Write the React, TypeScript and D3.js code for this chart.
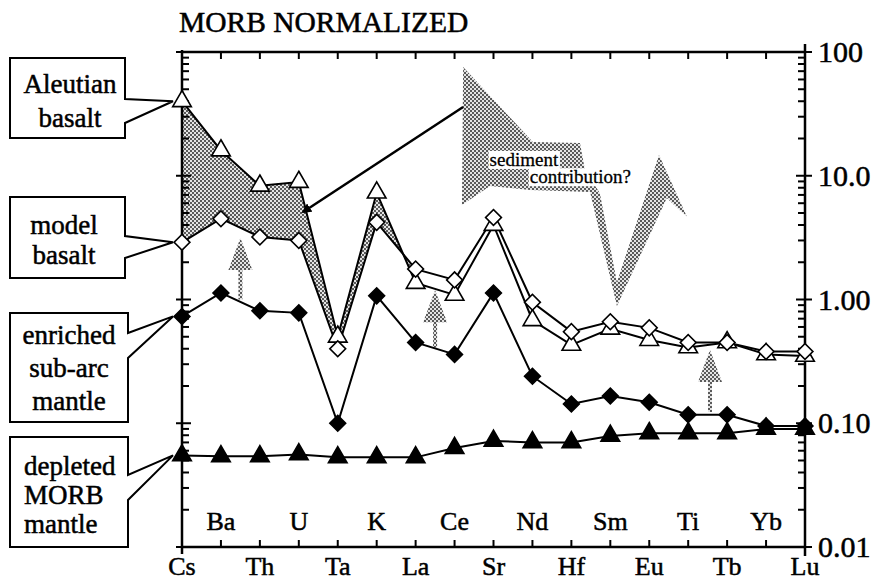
import React, { useEffect, useRef } from "react";
import * as d3 from "d3";

// trace elements along the x axis
const elements = ["Cs", "Ba", "Th", "U", "Ta", "K", "La", "Ce", "Sr", "Nd", "Hf", "Sm", "Eu", "Ti", "Tb", "Yb", "Lu"];

// MORB-normalized abundances
const aleutianBasalt = [40, 16, 8.3, 8.9, 0.5, 7.3, 1.36, 1.09, 4.0, 0.68, 0.43, 0.58, 0.47, 0.41, 0.45, 0.36, 0.35];
const modelBasalt = [2.9, 4.5, 3.2, 3.0, 0.4, 4.2, 1.76, 1.44, 4.6, 0.95, 0.55, 0.66, 0.59, 0.45, 0.45, 0.38, 0.38];
const enrichedMantle = [0.73, 1.13, 0.81, 0.78, 0.1, 1.07, 0.45, 0.36, 1.13, 0.24, 0.143, 0.166, 0.148, 0.117, 0.117, 0.095, 0.095];
const depletedMantle = [0.055, 0.054, 0.054, 0.056, 0.053, 0.053, 0.053, 0.063, 0.072, 0.07, 0.07, 0.079, 0.083, 0.083, 0.083, 0.09, 0.09];

const yTickValues = [100, 10, 1, 0.1, 0.01];
const yTickLabels = ["100", "10.0", "1.00", "0.10", "0.01"];

// annotations in (element index, normalized value)
const sedimentShape: [number, number][] = [
  [7.22, 75.7], [9.01, 18.7], [10.22, 18.4], [10.35, 11.1], [10.73, 7.26],
  [11.17, 1.38], [12.25, 14.7], [12.97, 4.64], [12.45, 6.61], [11.17, 0.886],
  [10.48, 7.39], [8.94, 7.67], [7.91, 8.26], [7.19, 5.8],
];
const pointerLine: [number, number][] = [[7.22, 35.9], [3.11, 5.1]];
const upArrows = [
  { at: 1.5, from: 1.0, to: 3.14 },
  { at: 6.5, from: 0.41, to: 1.19 },
  { at: 13.56, from: 0.123, to: 0.39 },
];
const sedimentLabels = [
  { t: "sediment", i: 7.9, v: 12.0 },
  { t: "contribution?", i: 8.93, v: 8.7 },
];
const shadedUntil = 6; // Cs..La

const calloutLabels = [
  ["Aleutian", "basalt"],
  ["model", "basalt"],
  ["enriched", "sub-arc", "mantle"],
  ["depleted", "MORB", "mantle"],
];
const calloutSeries = [aleutianBasalt, modelBasalt, enrichedMantle, depletedMantle];

const width = 879;
const height = 585;
const marginLeft = 182;
const marginRight = 74;
const marginTop = 52;
const marginBottom = 38;
const font = '"Liberation Serif"';

// callout box layout
const boxes = [
  { x0: 10, y0: 58, x1: 125, y1: 138, g0: 99, g1: 123, tx: 70, ty: 93, dy: 34, anchor: "middle" },
  { x0: 10, y0: 197, x1: 125, y1: 278, g0: 236, g1: 258, tx: 64, ty: 234, dy: 30, anchor: "middle" },
  { x0: 10, y0: 313, x1: 128, y1: 422, g0: 333, g1: 358, tx: 69, ty: 344, dy: 33, anchor: "middle" },
  { x0: 10, y0: 437, x1: 128, y1: 547, g0: 475, g1: 500, tx: 24, ty: 475, dy: 29, anchor: "start" },
];

const App: React.FC = () => {
  const svgRef = useRef<SVGSVGElement>(null);

  useEffect(() => {
    if (!svgRef.current) return;
    const svg = d3.select(svgRef.current);
    svg.selectAll("*").remove();

    const x = d3.scalePoint().domain(elements).range([marginLeft, width - marginRight]);
    const xi = d3.scaleLinear().domain([0, elements.length - 1]).range([marginLeft, width - marginRight]);
    const y = d3.scaleLog().domain([0.01, 100]).range([height - marginBottom, marginTop]);
    const left = marginLeft;
    const right = width - marginRight;
    const top = marginTop;
    const bottom = height - marginBottom;

    // printed look: a thin outline thickens the glyphs
    const ink = (sel: any, size: number) =>
      sel
        .style("font-family", font)
        .attr("font-size", size)
        .attr("fill", "#000")
        .attr("stroke", "#000")
        .attr("stroke-width", 0.5);

    const defs = svg.append("defs");
    const pat = defs
      .append("pattern")
      .attr("id", "stipple")
      .attr("width", 4)
      .attr("height", 4)
      .attr("patternUnits", "userSpaceOnUse");
    pat.append("rect").attr("width", 4).attr("height", 4).attr("fill", "#e4e4e4");
    pat.append("rect").attr("width", 2).attr("height", 2).attr("fill", "#5a5a5a");
    pat.append("rect").attr("x", 2).attr("y", 2).attr("width", 2).attr("height", 2).attr("fill", "#5a5a5a");
    defs
      .append("marker")
      .attr("id", "tip")
      .attr("viewBox", "0 0 10 10")
      .attr("refX", 8)
      .attr("refY", 5)
      .attr("markerWidth", 4)
      .attr("markerHeight", 4)
      .attr("orient", "auto")
      .append("path")
      .attr("d", "M0,0L10,5L0,10z")
      .attr("fill", "#000");

    // title
    ink(svg.append("text").attr("x", 179).attr("y", 32), 29.5).text("MORB NORMALIZED");

    // shaded band between Aleutian and model basalt
    const band = d3
      .area<number>()
      .x((i) => x(elements[i]) as number)
      .y0((i) => y(modelBasalt[i]))
      .y1((i) => y(aleutianBasalt[i]));
    svg.append("path").attr("d", band(d3.range(shadedUntil + 1))).attr("fill", "url(#stipple)");

    // sediment contribution shape
    svg
      .append("path")
      .attr("d", d3.line()(sedimentShape.map(([i, v]) => [xi(i), y(v)])) + "Z")
      .attr("fill", "url(#stipple)");

    sedimentLabels.forEach((s) => {
      const g = svg.append("g");
      const txt = ink(g.append("text").attr("x", xi(s.i)).attr("y", y(s.v)), 19)
        .attr("stroke-width", 0.3)
        .text(s.t);
      const bb = (txt.node() as SVGTextElement).getBBox();
      g.insert("rect", "text")
        .attr("x", bb.x - 1)
        .attr("y", bb.y + 2)
        .attr("width", bb.width + 2)
        .attr("height", bb.height - 3)
        .attr("fill", "#fff");
    });

    // up arrows
    upArrows.forEach((a) => {
      const cx = xi(a.at);
      const yt = y(a.to);
      const yb = y(a.from);
      const yh = yt + 32;
      svg
        .append("path")
        .attr("d", `M${cx - 2},${yb}V${yh}H${cx - 12}L${cx},${yt}L${cx + 12},${yh}H${cx + 2}V${yb}Z`)
        .attr("fill", "url(#stipple)");
    });

    // pointer to the shaded band
    svg
      .append("line")
      .attr("x1", xi(pointerLine[0][0]))
      .attr("y1", y(pointerLine[0][1]))
      .attr("x2", xi(pointerLine[1][0]))
      .attr("y2", y(pointerLine[1][1]))
      .attr("stroke", "#000")
      .attr("stroke-width", 2.5)
      .attr("marker-end", "url(#tip)");

    // frame
    const frame = svg.append("g").attr("stroke", "#000").attr("stroke-width", 2.5);
    frame.append("line").attr("x1", left).attr("x2", right).attr("y1", top).attr("y2", top);
    frame.append("line").attr("x1", left).attr("x2", right).attr("y1", bottom).attr("y2", bottom);
    frame.append("line").attr("x1", left).attr("x2", left).attr("y1", top - 2).attr("y2", bottom + 7);
    frame.append("line").attr("x1", right).attr("x2", right).attr("y1", top - 8).attr("y2", bottom + 9);

    // x ticks
    const ticks = svg.append("g").attr("stroke", "#000").attr("stroke-width", 2);
    elements.slice(1, -1).forEach((e) => {
      const px = x(e) as number;
      ticks.append("line").attr("x1", px).attr("x2", px).attr("y1", top).attr("y2", top + 7);
      ticks.append("line").attr("x1", px).attr("x2", px).attr("y1", bottom).attr("y2", bottom - 7);
    });

    // log y ticks
    const minors: number[] = [];
    [0.01, 0.1, 1, 10].forEach((d) => d3.range(2, 10).forEach((k) => minors.push(d * k)));
    minors.forEach((v) => {
      ticks.append("line").attr("x1", left).attr("x2", left + 7).attr("y1", y(v)).attr("y2", y(v));
      ticks.append("line").attr("x1", right).attr("x2", right - 7).attr("y1", y(v)).attr("y2", y(v));
    });
    yTickValues.forEach((v) => {
      ticks.append("line").attr("x1", left - 6).attr("x2", left + 9).attr("y1", y(v)).attr("y2", y(v));
      ticks.append("line").attr("x1", right - 9).attr("x2", right + 7).attr("y1", y(v)).attr("y2", y(v));
    });

    // y tick labels on the right
    ink(
      svg
        .append("g")
        .selectAll("text")
        .data(yTickValues)
        .join("text")
        .attr("x", right + 13)
        .attr("y", (v: number) => y(v) + 10),
      30
    ).text((v: number, i: number) => yTickLabels[i]);

    // element labels, alternating rows
    ink(
      svg
        .append("g")
        .selectAll("text")
        .data(elements)
        .join("text")
        .attr("x", (d: string) => x(d) as number)
        .attr("y", (d: string, i: number) => (i % 2 === 0 ? bottom + 28 : bottom - 17))
        .attr("text-anchor", "middle"),
      26
    ).text((d: string) => d);

    // series lines
    const line = d3
      .line<number>()
      .x((d, i) => x(elements[i]) as number)
      .y((d) => y(d));
    [aleutianBasalt, modelBasalt, enrichedMantle, depletedMantle].forEach((s) => {
      svg
        .append("path")
        .attr("d", line(s))
        .attr("fill", "none")
        .attr("stroke", "#000")
        .attr("stroke-width", 2);
    });

    const tri = d3.symbol(d3.symbolTriangle, 150)();
    const dia = d3.symbol(d3.symbolSquare, 125)();
    const drawMarkers = (s: number[], path: string | null, fill: string, rot: number) => {
      svg
        .append("g")
        .selectAll("path")
        .data(s)
        .join("path")
        .attr("d", path)
        .attr("transform", (d, i) => `translate(${x(elements[i])},${y(d)}) rotate(${rot})`)
        .attr("fill", fill)
        .attr("stroke", "#000")
        .attr("stroke-width", 1.6);
    };
    drawMarkers(aleutianBasalt, tri, "#fff", 0);
    drawMarkers(modelBasalt, dia, "#fff", 45);
    drawMarkers(depletedMantle, tri, "#000", 0);
    drawMarkers(enrichedMantle, dia, "#000", 45);

    // callout boxes
    boxes.forEach((b, k) => {
      const tipX = (x(elements[0]) as number) - 9;
      const tipY = y(calloutSeries[k][0]);
      svg
        .append("path")
        .attr("d", `M${b.x0},${b.y0}H${b.x1}V${b.g0}L${tipX},${tipY}L${b.x1},${b.g1}V${b.y1}H${b.x0}Z`)
        .attr("fill", "#fff")
        .attr("stroke", "#000")
        .attr("stroke-width", 2);
      ink(
        svg
          .append("g")
          .selectAll("text")
          .data(calloutLabels[k])
          .join("text")
          .attr("x", b.tx)
          .attr("y", (d: string, j: number) => b.ty + j * b.dy)
          .attr("text-anchor", b.anchor),
        27
      ).text((d: string) => d);
    });
  }, []);

  return (
    <svg
      ref={svgRef}
      width={width}
      height={height}
      style={{ position: "absolute", left: 0, top: 0, background: "#fff" }}
    />
  );
};

export default App;
